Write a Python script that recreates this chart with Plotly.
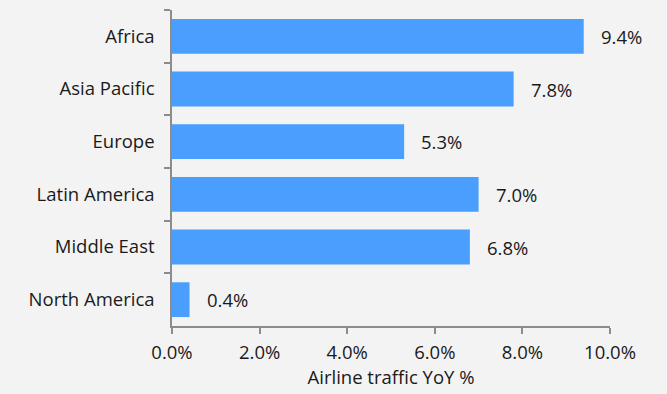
import plotly.graph_objects as go

regions = ["Africa", "Asia Pacific", "Europe", "Latin America", "Middle East", "North America"]
traffic_yoy = [9.4, 7.8, 5.3, 7.0, 6.8, 0.4]
x_ticks = [0, 2, 4, 6, 8, 10]
x_tick_labels = ["0.0%", "2.0%", "4.0%", "6.0%", "8.0%", "10.0%"]

FONT = "Open Sans"
FS = 18.5
BG = "#F3F3F3"
AXIS = "#8C8C8C"

fig = go.Figure()
fig.add_trace(go.Bar(
    y=regions, x=traffic_yoy, orientation="h",
    marker=dict(color="#4A9EFE", line=dict(width=0)),
    hoverinfo="skip",
))
for r, v in zip(regions, traffic_yoy):
    fig.add_annotation(x=v, y=r, text=f"{v:.1f}%", showarrow=False,
                       xanchor="left", xshift=15,
                       font=dict(family=FONT, size=FS, color="#1a1a1a"))

fig.update_layout(
    width=667, height=394,
    margin=dict(l=172, r=57, t=10, b=65),
    paper_bgcolor=BG, plot_bgcolor=BG,
    bargap=0.34,
    showlegend=False,
    font=dict(family=FONT, size=FS, color="#1a1a1a"),
)
fig.update_xaxes(
    range=[0, 10], tickvals=x_ticks, ticktext=x_tick_labels,
    showgrid=False, zeroline=False, showline=True, linecolor=AXIS, linewidth=1.5,
    ticks="outside", ticklen=6, tickcolor=AXIS, tickwidth=1.5,
    title=dict(text="Airline traffic YoY %", standoff=7, font=dict(size=FS)),
    tickfont=dict(size=FS), ticklabelstandoff=3,
)
fig.update_yaxes(
    autorange="reversed", type="category",
    showgrid=False, zeroline=False, showline=True, linecolor=AXIS, linewidth=1.5,
    ticks="outside", ticklen=6, tickcolor=AXIS, tickwidth=1.5, tickson="boundaries",
    tickfont=dict(size=FS), ticklabelstandoff=12,
)
fig.write_html("out.html")
